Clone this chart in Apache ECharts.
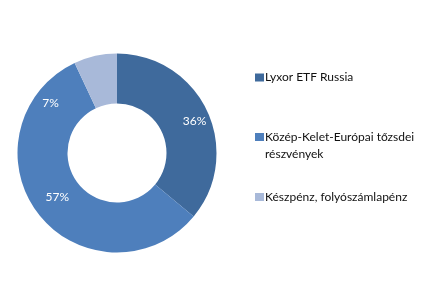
<!DOCTYPE html>
<html><head><meta charset="utf-8">
<script src="https://cdn.jsdelivr.net/npm/echarts@6/dist/echarts.min.js"></script>
<style>html,body{margin:0;padding:0;background:#fff}#c{width:446px;height:298px}</style>
</head><body><div id="c"></div>
<script>
const categories = ['Lyxor ETF Russia', 'Közép-Kelet-Európai tőzsdei részvények', 'Készpénz, folyószámlapénz'];
const values = [36, 57, 7];
const colors = ['#3F6A9C', '#4E7FBC', '#A8B9D9'];
const legendLines = {
  'Közép-Kelet-Európai tőzsdei részvények': '\nKözép-Kelet-Európai tőzsdei\nrészvények'
};
const labelShift = [[7.5, 1], [1.5, -3], [-49.5, 26]];
const legendTops = [69, 111.5, 188.5];

const FONT = 'Lato';
const chart = echarts.init(document.getElementById('c'), null, {renderer: 'canvas'});
const legends = categories.map((name, i) => ({
  data: [name],
  orient: 'vertical',
  left: 255,
  top: legendTops[i],
  icon: 'rect',
  itemWidth: 9,
  itemHeight: 8,
  padding: 0,
  selectedMode: false,
  formatter: n => legendLines[n] || n,
  textStyle: {fontFamily: FONT, fontSize: 12, color: '#111', lineHeight: 17, padding: [0,0,0,-4]}
}));
chart.setOption({
  animation: false,
  color: colors,
  legend: legends,
  series: [{
    type: 'pie',
    center: [117, 153],
    radius: [49.5, 99.5],
    startAngle: 90,
    clockwise: true,
    avoidLabelOverlap: false,
    data: categories.map((n, i) => ({name: n, value: values[i]})),
    itemStyle: {borderWidth: 0},
    emphasis: {disabled: true},
    label: {
      show: true,
      position: 'inside',
      formatter: p => p.value + '%',
      color: '#fff',
      fontFamily: FONT,
      fontSize: 12
    },
    labelLine: {show: false},
    labelLayout: p => ({dx: labelShift[p.dataIndex][0], dy: labelShift[p.dataIndex][1]})
  }]
});
</script></body></html>
